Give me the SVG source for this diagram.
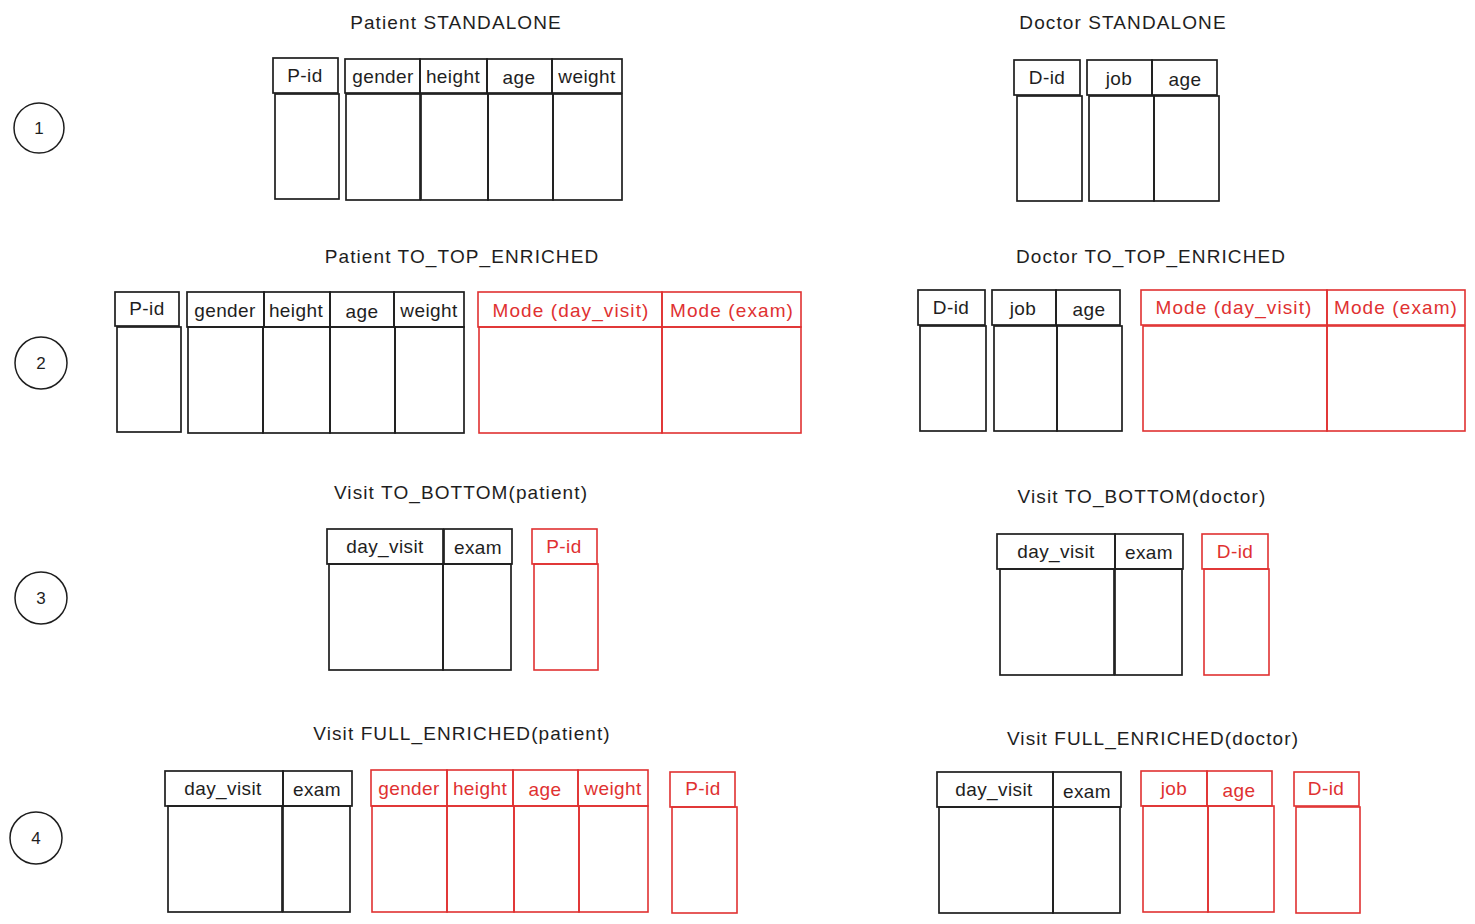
<svg xmlns="http://www.w3.org/2000/svg" width="1475" height="924" viewBox="0 0 1475 924">
<style>
.b{fill:none;stroke:#1e1e1e;stroke-width:1.7}
.r{fill:none;stroke:#e03131;stroke-width:1.6}
.t{font-family:"Liberation Sans",Arial,sans-serif;font-size:19px;fill:#1e1e1e;text-anchor:middle;dominant-baseline:central;letter-spacing:0.4px}
.tr{font-family:"Liberation Sans",Arial,sans-serif;font-size:19px;fill:#e03131;text-anchor:middle;dominant-baseline:central;letter-spacing:0.4px}
.m{letter-spacing:1.1px}
.ti{font-family:"Liberation Sans",Arial,sans-serif;font-size:19px;fill:#1e1e1e;text-anchor:middle;dominant-baseline:central;letter-spacing:1.1px}
.c{fill:none;stroke:#1e1e1e;stroke-width:1.5}
.n{font-family:"Liberation Sans",Arial,sans-serif;font-size:17px;fill:#1e1e1e;text-anchor:middle;dominant-baseline:central}
</style>
<rect width="1475" height="924" fill="#ffffff"/>

<!-- step markers -->
<g id="step1"><circle class="c" cx="39" cy="128" r="25"/><text class="n" x="39" y="128">1</text></g>
<g id="step2"><circle class="c" cx="41" cy="363" r="26"/><text class="n" x="41" y="363">2</text></g>
<g id="step3"><circle class="c" cx="41" cy="598" r="26"/><text class="n" x="41" y="598">3</text></g>
<g id="step4"><circle class="c" cx="36" cy="838" r="26"/><text class="n" x="36" y="838">4</text></g>

<!-- titles -->
<g id="titles">
<text class="ti" x="456" y="22">Patient STANDALONE</text>
<text class="ti" x="1123" y="22">Doctor STANDALONE</text>
<text class="ti" x="462" y="256">Patient TO_TOP_ENRICHED</text>
<text class="ti" x="1151" y="256">Doctor TO_TOP_ENRICHED</text>
<text class="ti" x="461" y="492">Visit TO_BOTTOM(patient)</text>
<text class="ti" x="1142" y="496">Visit TO_BOTTOM(doctor)</text>
<text class="ti" x="462" y="733">Visit FULL_ENRICHED(patient)</text>
<text class="ti" x="1153" y="738">Visit FULL_ENRICHED(doctor)</text>
</g>

<!-- Row 1 Patient -->
<g id="r1-patient-pid"><rect class="b" x="273" y="58" width="65" height="35"/><rect class="b" x="275" y="94" width="64" height="105"/><text class="t" x="305" y="75">P-id</text></g>
<g id="r1-patient-gender"><rect class="b" x="345" y="59" width="75" height="34"/><rect class="b" x="346" y="94" width="74" height="106"/><text class="t" x="383" y="76">gender</text></g>
<g id="r1-patient-height"><rect class="b" x="420" y="59" width="67" height="34"/><rect class="b" x="421" y="94" width="67" height="106"/><text class="t" x="453" y="76">height</text></g>
<g id="r1-patient-age"><rect class="b" x="487" y="59" width="65" height="34"/><rect class="b" x="488" y="94" width="65" height="106"/><text class="t" x="519" y="77">age</text></g>
<g id="r1-patient-weight"><rect class="b" x="552" y="59" width="70" height="34"/><rect class="b" x="553" y="94" width="69" height="106"/><text class="t" x="587" y="76">weight</text></g>

<!-- Row 1 Doctor -->
<g id="r1-doctor-did"><rect class="b" x="1014" y="60" width="66" height="35"/><rect class="b" x="1017" y="96" width="65" height="105"/><text class="t" x="1047" y="77">D-id</text></g>
<g id="r1-doctor-job"><rect class="b" x="1087" y="60" width="65" height="35"/><rect class="b" x="1089" y="96" width="65" height="105"/><text class="t" x="1119" y="78">job</text></g>
<g id="r1-doctor-age"><rect class="b" x="1152" y="60" width="65" height="35"/><rect class="b" x="1154" y="96" width="65" height="105"/><text class="t" x="1185" y="79">age</text></g>

<!-- Row 2 Patient -->
<g id="r2-patient-pid"><rect class="b" x="115" y="292" width="64" height="34"/><rect class="b" x="117" y="327" width="64" height="105"/><text class="t" x="147" y="308">P-id</text></g>
<g id="r2-patient-gender"><rect class="b" x="187" y="292" width="77" height="35"/><rect class="b" x="188" y="327" width="75" height="106"/><text class="t" x="225" y="310">gender</text></g>
<g id="r2-patient-height"><rect class="b" x="264" y="292" width="66" height="35"/><rect class="b" x="263" y="327" width="67" height="106"/><text class="t" x="296" y="310">height</text></g>
<g id="r2-patient-age"><rect class="b" x="330" y="292" width="64" height="35"/><rect class="b" x="330" y="327" width="65" height="106"/><text class="t" x="362" y="311">age</text></g>
<g id="r2-patient-weight"><rect class="b" x="394" y="292" width="70" height="35"/><rect class="b" x="395" y="327" width="69" height="106"/><text class="t" x="429" y="310">weight</text></g>
<g id="r2-patient-mode-day"><rect class="r" x="478" y="292" width="184" height="35"/><rect class="r" x="479" y="327" width="183" height="106"/><text class="tr m" x="571" y="310">Mode (day_visit)</text></g>
<g id="r2-patient-mode-exam"><rect class="r" x="662" y="292" width="139" height="35"/><rect class="r" x="662" y="327" width="139" height="106"/><text class="tr m" x="732" y="310">Mode (exam)</text></g>

<!-- Row 2 Doctor -->
<g id="r2-doctor-did"><rect class="b" x="918" y="290" width="67" height="35"/><rect class="b" x="920" y="326" width="66" height="105"/><text class="t" x="951" y="307">D-id</text></g>
<g id="r2-doctor-job"><rect class="b" x="992" y="290" width="64" height="35"/><rect class="b" x="994" y="326" width="63" height="105"/><text class="t" x="1023" y="308">job</text></g>
<g id="r2-doctor-age"><rect class="b" x="1056" y="290" width="64" height="35"/><rect class="b" x="1057" y="326" width="65" height="105"/><text class="t" x="1089" y="309">age</text></g>
<g id="r2-doctor-mode-day"><rect class="r" x="1141" y="290" width="186" height="35"/><rect class="r" x="1143" y="326" width="184" height="105"/><text class="tr m" x="1234" y="307">Mode (day_visit)</text></g>
<g id="r2-doctor-mode-exam"><rect class="r" x="1327" y="290" width="138" height="35"/><rect class="r" x="1327" y="326" width="138" height="105"/><text class="tr m" x="1396" y="307">Mode (exam)</text></g>

<!-- Row 3 Patient -->
<g id="r3-patient-day"><rect class="b" x="327" y="529" width="116" height="35"/><rect class="b" x="329" y="564" width="114" height="106"/><text class="t" x="385" y="546">day_visit</text></g>
<g id="r3-patient-exam"><rect class="b" x="444" y="529" width="68" height="35"/><rect class="b" x="443" y="564" width="68" height="106"/><text class="t" x="478" y="547">exam</text></g>
<g id="r3-patient-pid"><rect class="r" x="532" y="529" width="65" height="35"/><rect class="r" x="534" y="564" width="64" height="106"/><text class="tr" x="564" y="546">P-id</text></g>

<!-- Row 3 Doctor -->
<g id="r3-doctor-day"><rect class="b" x="997" y="534" width="118" height="35"/><rect class="b" x="1000" y="569" width="114" height="106"/><text class="t" x="1056" y="551">day_visit</text></g>
<g id="r3-doctor-exam"><rect class="b" x="1115" y="534" width="68" height="35"/><rect class="b" x="1115" y="569" width="67" height="106"/><text class="t" x="1149" y="552">exam</text></g>
<g id="r3-doctor-did"><rect class="r" x="1202" y="534" width="66" height="35"/><rect class="r" x="1204" y="569" width="65" height="106"/><text class="tr" x="1235" y="551">D-id</text></g>

<!-- Row 4 Patient -->
<g id="r4-patient-day"><rect class="b" x="165" y="771" width="118" height="35"/><rect class="b" x="168" y="806" width="114" height="106"/><text class="t" x="223" y="788">day_visit</text></g>
<g id="r4-patient-exam"><rect class="b" x="283" y="771" width="69" height="35"/><rect class="b" x="283" y="806" width="67" height="106"/><text class="t" x="317" y="789">exam</text></g>
<g id="r4-patient-gender"><rect class="r" x="371" y="770" width="76" height="36"/><rect class="r" x="372" y="806" width="75" height="106"/><text class="tr" x="409" y="788">gender</text></g>
<g id="r4-patient-height"><rect class="r" x="447" y="770" width="66" height="36"/><rect class="r" x="447" y="806" width="67" height="106"/><text class="tr" x="480" y="788">height</text></g>
<g id="r4-patient-age"><rect class="r" x="513" y="770" width="65" height="36"/><rect class="r" x="514" y="806" width="65" height="106"/><text class="tr" x="545" y="789">age</text></g>
<g id="r4-patient-weight"><rect class="r" x="578" y="770" width="70" height="36"/><rect class="r" x="579" y="806" width="69" height="106"/><text class="tr" x="613" y="788">weight</text></g>
<g id="r4-patient-pid"><rect class="r" x="670" y="772" width="65" height="35"/><rect class="r" x="672" y="807" width="65" height="106"/><text class="tr" x="703" y="788">P-id</text></g>

<!-- Row 4 Doctor -->
<g id="r4-doctor-day"><rect class="b" x="937" y="772" width="116" height="35"/><rect class="b" x="939" y="807" width="114" height="106"/><text class="t" x="994" y="789">day_visit</text></g>
<g id="r4-doctor-exam"><rect class="b" x="1053" y="772" width="68" height="35"/><rect class="b" x="1053" y="807" width="67" height="106"/><text class="t" x="1087" y="791">exam</text></g>
<g id="r4-doctor-job"><rect class="r" x="1141" y="771" width="66" height="35"/><rect class="r" x="1143" y="806" width="65" height="106"/><text class="tr" x="1174" y="788">job</text></g>
<g id="r4-doctor-age"><rect class="r" x="1207" y="771" width="65" height="35"/><rect class="r" x="1208" y="806" width="66" height="106"/><text class="tr" x="1239" y="790">age</text></g>
<g id="r4-doctor-did"><rect class="r" x="1294" y="772" width="65" height="34"/><rect class="r" x="1296" y="807" width="64" height="106"/><text class="tr" x="1326" y="788">D-id</text></g>

<g id="connectors"/>
</svg>
